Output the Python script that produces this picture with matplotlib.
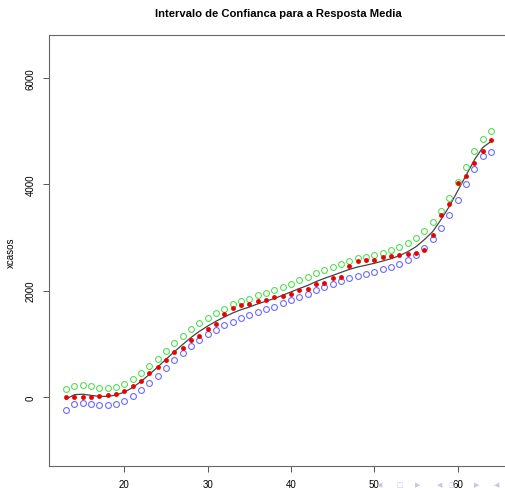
import matplotlib
matplotlib.use("Agg")
import matplotlib.pyplot as plt

x = list(range(13, 65))
obs = [0, 0, 0, 5, 10, 40, 60, 105, 207, 300,
       460, 570, 700, 840, 927, 1077, 1155, 1284, 1365, 1553,
       1679, 1723, 1754, 1800, 1829, 1875, 1900, 1945, 2008, 2036,
       2120, 2145, 2240, 2262, 2470, 2557, 2569, 2578, 2635, 2645,
       2663, 2690, 2715, 2765, 3038, 3427, 3634, 4029, 4155, 4405,
       4636, 4832]
upper = [145, 212, 218, 200, 172, 172, 197, 253, 335, 454,
         586, 723, 868, 1008, 1147, 1278, 1397, 1491, 1585, 1660,
         1740, 1798, 1848, 1911, 1955, 2005, 2068, 2130, 2193, 2256,
         2331, 2393, 2444, 2500, 2557, 2613, 2640, 2670, 2713, 2757,
         2817, 2895, 2986, 3113, 3290, 3497, 3747, 4042, 4324, 4625,
         4856, 5006]
lower = [-252, -126, -113, -139, -150, -150, -126, -70, 19, 132,
         263, 400, 551, 696, 827, 959, 1071, 1177, 1265, 1347,
         1420, 1485, 1535, 1590, 1648, 1700, 1760, 1823, 1886, 1942,
         2010, 2068, 2130, 2187, 2243, 2278, 2318, 2359, 2400, 2444,
         2497, 2569, 2667, 2807, 2963, 3177, 3422, 3710, 4005, 4292,
         4526, 4608]
fit = [-40, 43, 53, 31, 11, 11, 36, 92, 177, 293,
       425, 562, 710, 852, 987, 1119, 1234, 1334, 1425, 1504,
       1580, 1642, 1692, 1751, 1802, 1853, 1914, 1977, 2040, 2099,
       2171, 2231, 2287, 2344, 2400, 2446, 2479, 2515, 2557, 2601,
       2657, 2732, 2827, 2960, 3110, 3337, 3585, 3876, 4165, 4459,
       4691, 4807]
xticks = [20, 30, 40, 50, 60]
yticks = [0, 2000, 4000, 6000]
title = "Intervalo de Confianca para a Resposta Media"
ylabel = "xcasos"

plt.rcParams['font.family'] = ['Liberation Sans', 'DejaVu Sans']

W, H = 505, 489
fig = plt.figure(figsize=(W / 100, H / 100), dpi=100)
ax = fig.add_axes([49 / W, (H - 467) / H, 459 / W, 431 / H])

ax.plot(x, fit, color='#444444', lw=0.9, zorder=2)
ax.plot(x, upper, 'o', mfc='none', mec='#55dd55', mew=0.8, ms=4.2, zorder=3)
ax.plot(x, lower, 'o', mfc='none', mec='#6a6aff', mew=0.8, ms=4.2, zorder=3)
ax.plot(x, obs, 'o', color='#ee0000', ms=3.5, mew=0, zorder=4)

ax.set_xlim(10.96, 66.04)
ax.set_ylim(-1298, 6809)
ax.set_xticks(xticks)
ax.set_yticks(yticks)
ax.set_xticklabels([str(t) for t in xticks], fontsize=7)
ax.set_yticklabels([str(t) for t in yticks], fontsize=7, rotation=90, va='center')
ax.tick_params(direction='out', length=4.5, width=0.7, color='#555555', pad=5)
for s in ax.spines.values():
    s.set_color('#666666')
    s.set_linewidth(0.8)

fig.text(278.5 / W, 1 - 14 / H, title, ha='center', va='center',
         fontsize=8.1, fontweight='bold')
fig.text(11 / W, 1 - 253 / H, ylabel, ha='center', va='center',
         rotation=90, fontsize=7)

# faint beamer navigation symbols
nav = [(380, '◀'), (400, '□'), (418, '▶'), (440, '◀'), (452, '□'), (477, '▶'), (497, '◀')]
for px, ch in nav:
    fig.text(px / W, 1 - 485 / H, ch, ha='center', va='center', fontsize=5,
             color='#c8c8e6', family=['DejaVu Sans'])

fig.savefig('out.png', dpi=100)
